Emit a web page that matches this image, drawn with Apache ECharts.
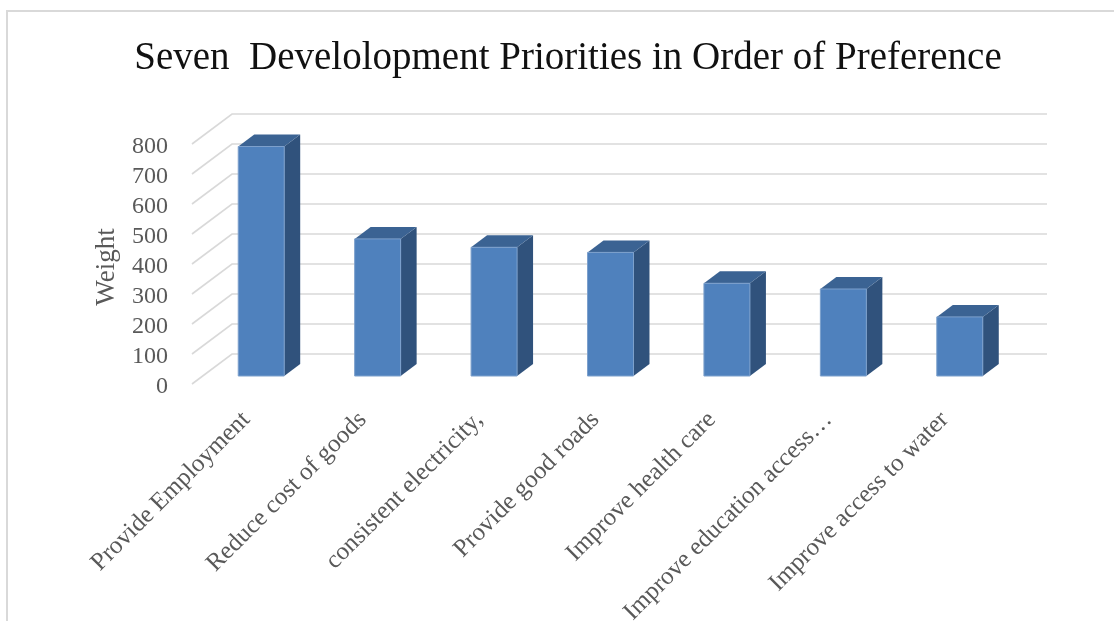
<!DOCTYPE html>
<html>
<head>
<meta charset="utf-8">
<title>Seven Development Priorities</title>
<script src="https://cdn.jsdelivr.net/npm/echarts@6/dist/echarts.min.js"></script>
<style>
  html, body { margin: 0; padding: 0; background: #ffffff; }
  #chart { width: 1114px; height: 621px; }
</style>
</head>
<body>
<div id="chart"></div>
<script>
// Development priorities ranked by total weight
const categories = [
  'Provide Employment',
  'Reduce cost of goods',
  'consistent electricity,',
  'Provide good roads',
  'Improve health care',
  'Improve education access…',
  'Improve access to water'
];
const weights = [765, 457, 429, 412, 309, 290, 197];
const yTicks = [0, 100, 200, 300, 400, 500, 600, 700, 800];

const FONT = '"Liberation Serif", "DejaVu Serif", serif';
const FRONT = '#4F81BD';
const TOP = '#3B6393';
const SIDE = '#30527C';
const GRID = '#D9D9D9';

// Oblique depth offsets (pixels) for the pseudo-3D floor/walls
const BACK_DX = 29, BACK_DY = -22;   // back wall relative to bar front plane
const FRONT_DX = -11, FRONT_DY = 8;  // front edge relative to bar front plane
const BAR_DX = 16, BAR_DY = 12;      // bar depth

const chart = echarts.init(document.getElementById('chart'), null, { renderer: 'canvas' });

function renderGridLine(params, api) {
  const cs = params.coordSys;
  const y = api.coord([0, api.value(1)])[1];
  const left = cs.x, right = cs.x + cs.width;
  return {
    type: 'polyline',
    shape: {
      points: [
        [left + FRONT_DX, y + FRONT_DY],
        [left + BACK_DX, y + BACK_DY],
        [right + BACK_DX, y + BACK_DY]
      ]
    },
    style: { stroke: GRID, lineWidth: 1.6, fill: null }
  };
}

function renderBar(params, api) {
  const i = api.value(0);
  const v = api.value(1);
  const top = api.coord([i, v]);
  const base = api.coord([i, 0]);
  const band = api.size([1, 0])[0];
  const hw = band * 0.395 / 2;
  const x0 = top[0] - hw, x1 = top[0] + hw;
  const yT = top[1], yB = base[1];
  return {
    type: 'group',
    children: [
      {
        type: 'polygon',
        shape: { points: [[x1, yT], [x1 + BAR_DX, yT - BAR_DY], [x1 + BAR_DX, yB - BAR_DY], [x1, yB]] },
        style: { fill: SIDE }
      },
      {
        type: 'polygon',
        shape: { points: [[x0, yT], [x1, yT], [x1 + BAR_DX, yT - BAR_DY], [x0 + BAR_DX, yT - BAR_DY]] },
        style: { fill: TOP }
      },
      {
        type: 'rect',
        shape: { x: x0, y: yT, width: x1 - x0, height: yB - yT },
        style: { fill: FRONT, stroke: '#7DA0CC', lineWidth: 1 }
      }
    ]
  };
}

const option = {
  backgroundColor: '#ffffff',
  animation: false,
  title: {
    text: 'Seven  Develolopment Priorities in Order of Preference',
    left: 563,
    top: 34,
    textAlign: 'center',
    textStyle: { fontFamily: FONT, fontSize: 39, fontWeight: 'normal', color: '#111111' }
  },
  graphic: [
    {
      type: 'rect',
      shape: { x: 7, y: 11, width: 1200, height: 700 },
      style: { fill: null, stroke: '#D9D9D9', lineWidth: 2 },
      silent: true
    }
  ],
  grid: [
    // bar front plane
    { left: 203, right: 96, top: 136, bottom: 245, outerBoundsMode: 'none' },
    // value labels on the front edge
    { left: 192, right: 96, top: 147, bottom: 234, outerBoundsMode: 'none' },
    // category labels below the floor
    { left: 188, right: 111, top: 136, bottom: 245, outerBoundsMode: 'none' }
  ],
  xAxis: [
    { type: 'category', gridIndex: 0, data: categories, show: false },
    { type: 'value', gridIndex: 1, show: false },
    {
      type: 'category',
      gridIndex: 2,
      data: categories,
      axisLine: { show: false },
      axisTick: { show: false },
      axisLabel: {
        interval: 0,
        rotate: 45,
        margin: 40,
        fontFamily: FONT,
        fontSize: 25,
        color: '#595959'
      }
    }
  ],
  yAxis: [
    {
      type: 'value',
      gridIndex: 0,
      min: 0, max: 800, interval: 100,
      axisLine: { show: false },
      axisTick: { show: false },
      axisLabel: { show: false },
      splitLine: { show: false }
    },
    {
      type: 'value',
      gridIndex: 1,
      min: 0, max: 800, interval: 100,
      name: 'Weight',
      nameLocation: 'middle',
      nameGap: 72,
      nameRotate: 90,
      nameTextStyle: { fontFamily: FONT, fontSize: 27, color: '#595959' },
      axisLine: { show: false },
      axisTick: { show: false },
      splitLine: { show: false },
      axisLabel: {
        margin: 24,
        fontFamily: FONT,
        fontSize: 24,
        color: '#595959',
        formatter: (val) => (yTicks.indexOf(val) >= 0 ? String(val) : '')
      }
    },
    { type: 'value', gridIndex: 2, show: false, min: 0, max: 800 }
  ],
  series: [
    {
      type: 'custom',
      xAxisIndex: 0,
      yAxisIndex: 0,
      z: 1,
      silent: true,
      renderItem: renderGridLine,
      data: yTicks.map((v) => [0, v]),
      clip: false
    },
    {
      type: 'custom',
      xAxisIndex: 0,
      yAxisIndex: 0,
      z: 2,
      renderItem: renderBar,
      data: weights.map((w, i) => [i, w]),
      clip: false
    }
  ]
};

chart.setOption(option);
</script>
</body>
</html>
